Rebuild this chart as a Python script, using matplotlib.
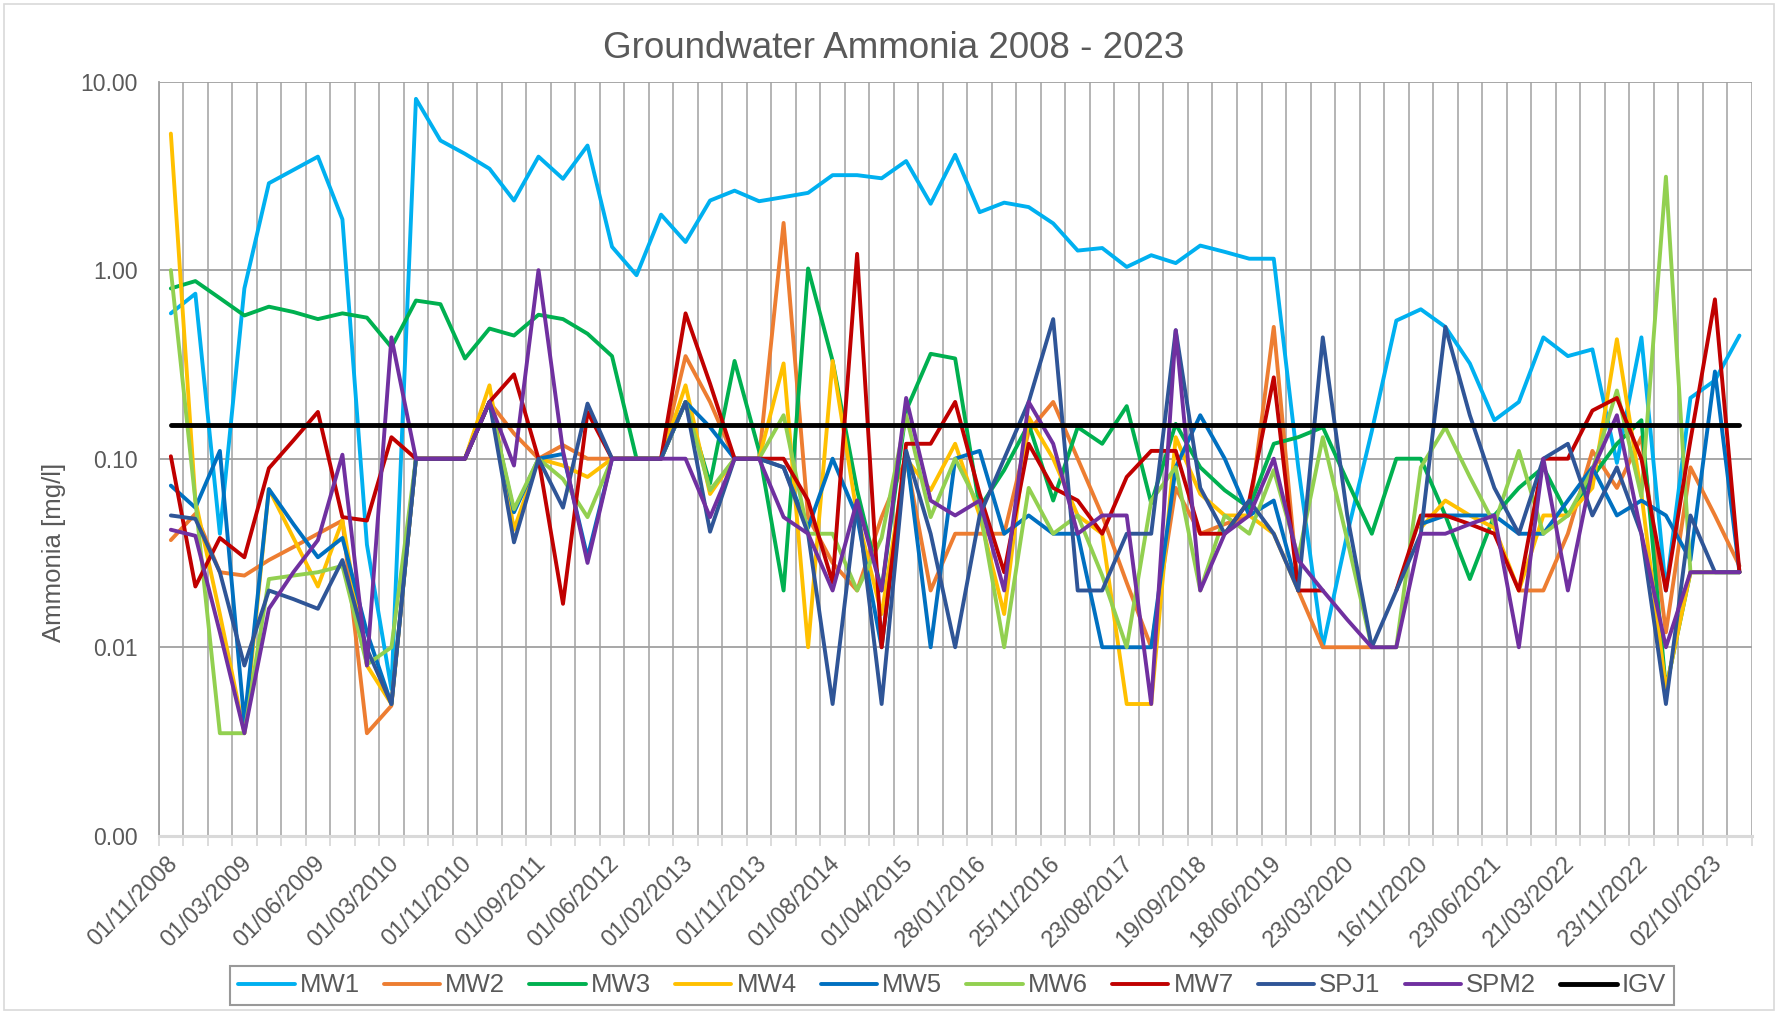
import numpy as np
import matplotlib
matplotlib.use('Agg')
import matplotlib.pyplot as plt
from matplotlib.ticker import FixedLocator, FuncFormatter, NullLocator
from matplotlib.patches import Rectangle
from matplotlib.transforms import ScaledTranslation

plt.rcParams['font.family'] = ['Liberation Sans', 'DejaVu Sans']

nan = np.nan

###############################################################################
# DATA (mg/l, one value per sampling round)
###############################################################################

# only every third sampling date is labelled on the axis
tick_dates = ['01/11/2008', '01/03/2009', '01/06/2009', '01/03/2010', '01/11/2010',
              '01/09/2011', '01/06/2012', '01/02/2013', '01/11/2013', '01/08/2014',
              '01/04/2015', '28/01/2016', '25/11/2016', '23/08/2017', '19/09/2018',
              '18/06/2019', '23/03/2020', '16/11/2020', '23/06/2021', '21/03/2022',
              '23/11/2022', '02/10/2023']
label_step = 3

mw1 = [0.59, 0.75, 0.04, 0.8, 2.89, 3.4, 4.0, 1.86, 0.035, 0.006,
       8.1, 4.87, 4.14, 3.45, 2.34, 4.0, 3.05, 4.58, 1.33, 0.94,
       1.97, 1.41, 2.34, 2.64, 2.32, 2.44, 2.57, 3.19, 3.19, 3.07,
       3.79, 2.25, 4.09, 2.03, 2.28, 2.16, 1.77, 1.27, 1.31, 1.04,
       1.2, 1.09, 1.35, 1.25, 1.15, 1.15, 0.09, 0.01, 0.04, 0.14,
       0.54, 0.62, 0.5, 0.32, 0.16, 0.2, 0.44, 0.35, 0.38, 0.095,
       0.44, 0.02, 0.21, 0.26, 0.45]

mw2 = [0.037, 0.051, 0.025, 0.024, 0.029, 0.034, 0.04, 0.047, 0.0035, 0.0049,
       0.1, 0.1, 0.1, 0.2, 0.136, 0.1, 0.118, 0.1, 0.1, 0.1,
       0.1, 0.35, 0.2, 0.1, 0.1, 1.78, 0.049, 0.028, 0.02, 0.049,
       0.1, 0.02, 0.04, 0.04, 0.04, 0.14, 0.2, 0.1, 0.05, 0.022,
       0.01, 0.07, 0.04, 0.045, 0.05, 0.5, 0.02, 0.01, 0.01, 0.01,
       nan, nan, nan, nan, nan, 0.02, 0.02, 0.04, 0.11, 0.07,
       0.13, 0.012, 0.09, 0.05, 0.027]

mw3 = [0.8, 0.875, 0.71, 0.575, 0.64, 0.6, 0.55, 0.59, 0.56, 0.39,
       0.69, 0.66, 0.34, 0.49, 0.45, 0.58, 0.55, 0.46, 0.35, 0.1,
       0.1, 0.2, 0.074, 0.33, 0.11, 0.02, 1.02, 0.33, 0.068, 0.02,
       0.18, 0.36, 0.34, 0.055, 0.087, 0.153, 0.06, 0.147, 0.12, 0.19,
       0.058, 0.153, 0.09, 0.068, 0.055, 0.12, 0.13, 0.147, 0.076, 0.04,
       0.1, 0.1, 0.05, 0.023, 0.05, 0.07, 0.09, 0.05, 0.08, 0.12,
       0.16, 0.006, 0.025, 0.025, 0.025]

mw4 = [5.3, 0.06, 0.015, 0.0035, 0.069, 0.038, 0.021, 0.047, 0.008, 0.005,
       0.1, 0.1, 0.1, 0.245, 0.042, 0.1, 0.092, 0.08, 0.1, 0.1,
       0.1, 0.245, 0.065, 0.1, 0.1, 0.32, 0.01, 0.33, 0.05, 0.015,
       0.1, 0.068, 0.12, 0.05, 0.015, 0.166, 0.1, 0.05, 0.04, 0.005,
       0.005, 0.13, 0.065, 0.05, 0.05, 0.04, 0.02, nan, nan, nan,
       nan, 0.043, 0.06, 0.05, 0.043, 0.02, 0.05, 0.05, 0.07, 0.43,
       0.065, 0.006, 0.025, 0.025, 0.025]

mw5 = [0.072, 0.055, 0.11, 0.004, 0.069, 0.045, 0.03, 0.038, 0.012, 0.005,
       0.1, 0.1, 0.1, 0.2, 0.052, 0.1, 0.106, 0.03, 0.1, 0.1,
       0.1, 0.2, 0.147, 0.1, 0.1, 0.09, 0.043, 0.1, 0.049, 0.01,
       0.11, 0.01, 0.1, 0.11, 0.04, 0.05, 0.04, 0.04, 0.01, 0.01,
       0.01, 0.09, 0.17, 0.1, 0.05, 0.06, 0.02, nan, nan, nan,
       nan, 0.045, 0.05, 0.05, 0.05, 0.04, 0.04, 0.06, 0.09, 0.05,
       0.06, 0.05, 0.029, 0.29, 0.025]

mw6 = [1.0, 0.06, 0.0035, 0.0035, 0.023, 0.024, 0.025, 0.027, 0.0081, 0.01,
       0.1, 0.1, 0.1, 0.2, 0.054, 0.1, 0.078, 0.049, 0.1, 0.1,
       0.1, 0.2, 0.068, 0.1, 0.1, 0.17, 0.04, 0.04, 0.02, 0.038,
       0.17, 0.049, 0.1, 0.055, 0.01, 0.07, 0.04, 0.05, 0.024, 0.01,
       0.06, 0.09, 0.02, 0.05, 0.04, 0.087, 0.03, 0.13, 0.037, 0.01,
       0.01, 0.09, 0.147, 0.08, 0.045, 0.11, 0.04, 0.05, 0.087, 0.23,
       0.063, 3.13, 0.025, 0.025, 0.025]

mw7 = [0.103, 0.021, 0.038, 0.03, 0.089, 0.125, 0.177, 0.049, 0.047, 0.13,
       0.1, 0.1, 0.1, 0.2, 0.28, 0.1, 0.017, 0.177, 0.1, 0.1,
       0.1, 0.59, 0.25, 0.1, 0.1, 0.1, 0.06, 0.022, 1.22, 0.01,
       0.12, 0.12, 0.2, 0.065, 0.025, 0.12, 0.07, 0.06, 0.04, 0.08,
       0.11, 0.11, 0.04, 0.04, 0.06, 0.27, 0.02, 0.02, nan, nan,
       0.02, 0.05, 0.05, 0.045, 0.04, 0.02, 0.1, 0.1, 0.18, 0.21,
       0.1, 0.02, 0.125, 0.7, 0.025]

spj1 = [0.05, 0.048, 0.025, 0.008, 0.02, 0.018, 0.016, 0.029, 0.0098, 0.005,
        0.1, 0.1, 0.1, 0.2, 0.036, 0.1, 0.055, 0.196, 0.1, 0.1,
        0.1, 0.2, 0.041, 0.1, 0.1, 0.09, 0.04, 0.005, 0.06, 0.005,
        0.11, 0.04, 0.01, 0.05, 0.1, 0.2, 0.55, 0.02, 0.02, 0.04,
        0.04, 0.48, 0.07, 0.04, 0.06, 0.04, 0.02, 0.44, 0.05, 0.01,
        0.02, 0.04, 0.5, 0.17, 0.07, 0.04, 0.1, 0.12, 0.05, 0.09,
        0.04, 0.005, 0.05, 0.025, 0.025]

spm2 = [0.042, 0.039, 0.012, 0.0035, 0.016, 0.025, 0.037, 0.105, 0.008, 0.44,
        0.1, 0.1, 0.1, 0.2, 0.092, 1.0, 0.11, 0.028, 0.1, 0.1,
        0.1, 0.1, 0.049, 0.1, 0.1, 0.049, 0.04, 0.02, 0.06, 0.02,
        0.21, 0.06, 0.05, 0.06, 0.02, 0.2, 0.12, 0.04, 0.05, 0.05,
        0.005, 0.48, 0.02, 0.04, 0.05, 0.1, 0.029, 0.02, 0.014, 0.01,
        0.01, 0.04, 0.04, 0.045, 0.05, 0.01, 0.1, 0.02, 0.087, 0.17,
        0.04, 0.01, 0.025, 0.025, 0.025]

# guideline value (IGV)
igv_level = 0.15

series = [('MW1', mw1, '#00B0F0'),
          ('MW2', mw2, '#ED7D31'),
          ('MW3', mw3, '#00B050'),
          ('MW4', mw4, '#FFC000'),
          ('MW5', mw5, '#0070C0'),
          ('MW6', mw6, '#92D050'),
          ('MW7', mw7, '#C00000'),
          ('SPJ1', spj1, '#2F5597'),
          ('SPM2', spm2, '#7030A0')]

###############################################################################
# FIGURE
###############################################################################

W, H = 1778, 1014
txt = '#595959'
grid_col = '#A0A0A0'

fig = plt.figure(figsize=(W / 100, H / 100), dpi=100)
# plot area in pixels: left 158.6, right 1751.7, top 81.6, bottom 835.8
ax = fig.add_axes([158.6 / W, 1 - 835.8 / H, (1751.7 - 158.6) / W, (835.8 - 81.6) / H])

n = len(mw1)
x = np.arange(n)

for name, vals, col in series:
    ax.plot(x, vals, color=col, lw=2.8, label=name,
            solid_joinstyle='round', solid_capstyle='round', zorder=3)
ax.plot(x, [igv_level] * n, color='black', lw=3.5, label='IGV',
        solid_capstyle='round', zorder=4)

# y axis (log)
ax.set_yscale('log')
ax.set_ylim(1e-3, 10)
ax.yaxis.set_major_locator(FixedLocator([0.001, 0.01, 0.1, 1, 10]))
ax.yaxis.set_minor_locator(NullLocator())
ax.yaxis.set_major_formatter(FuncFormatter(lambda v, p: f'{v:.2f}'))
ax.tick_params(axis='y', length=0, pad=15, labelsize=16.5, labelcolor=txt)

# x axis (categories, gridlines between points)
ax.set_xlim(-0.5, n - 0.5)
ax.set_xticks(np.arange(0, n, label_step))
ax.set_xticklabels(tick_dates, rotation=45, ha='right', va='top',
                   rotation_mode='anchor')
ax.set_xticks(np.arange(-0.5, n, 1), minor=True)
ax.tick_params(axis='x', which='major', length=0, pad=12, labelsize=17, labelcolor=txt)
ax.tick_params(axis='x', which='minor', length=7, width=1.3, color='#D9D9D9',
               direction='out')
shift = ScaledTranslation(-0.04, 0, fig.dpi_scale_trans)
for lab in ax.get_xticklabels():
    lab.set_transform(lab.get_transform() + shift)

ax.set_axisbelow(True)
ax.xaxis.grid(False, which='major')
ax.xaxis.grid(True, which='minor', color=grid_col, lw=1.1)
ax.yaxis.grid(True, which='major', color=grid_col, lw=1.3)

for s in ['top', 'right']:
    ax.spines[s].set_visible(False)
ax.spines['left'].set_color(grid_col)
ax.spines['left'].set_linewidth(1.3)
ax.spines['bottom'].set_color('#D9D9D9')
ax.spines['bottom'].set_linewidth(2.2)

# texts
fig.text(894 / W, 1 - 48 / H, 'Groundwater Ammonia 2008 - 2023',
         ha='center', va='center', fontsize=26.5, color=txt)
fig.text(54 / W, 1 - 552 / H, 'Ammonia [mg/l]', rotation=90,
         ha='center', va='center', fontsize=18.5, color=txt)

# legend
handles, labels = ax.get_legend_handles_labels()
leg = fig.legend(handles, labels, loc='center', bbox_to_anchor=(952 / W, 1 - 985.5 / H),
                 ncol=10, frameon=True, fancybox=False, fontsize=18.5,
                 handlelength=2.2, handletextpad=0.2, columnspacing=0.93,
                 borderpad=0.3, labelcolor=txt)
leg.get_frame().set_edgecolor('#808080')
leg.get_frame().set_linewidth(1.5)

# chart area border
fig.patches.append(Rectangle((4 / W, 4 / H), 1 - 8 / W, 1 - 8 / H, transform=fig.transFigure,
                             fill=False, edgecolor='#D9D9D9', lw=1.2))

fig.savefig('out.png', dpi=100)
